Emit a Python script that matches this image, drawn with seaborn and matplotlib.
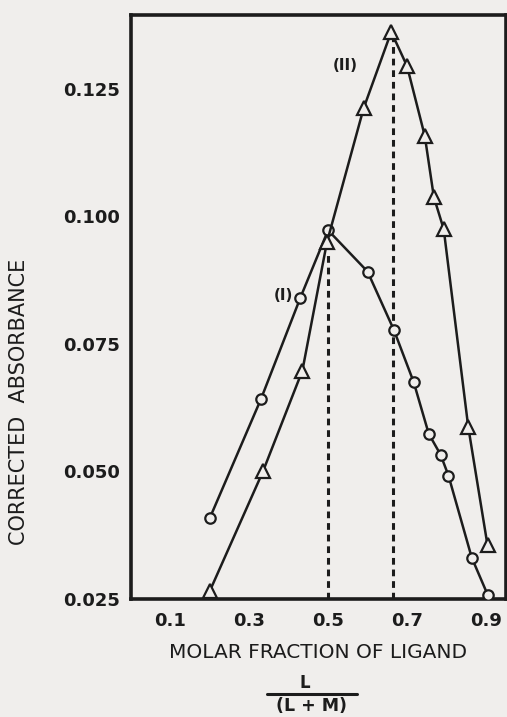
import numpy as np
import pandas as pd
import matplotlib
matplotlib.use("Agg")
import matplotlib.pyplot as plt
import seaborn as sns
from matplotlib.lines import Line2D

sns.set_theme(style="white")
plt.rcParams["font.family"] = ["DejaVu Sans"]

PAPER = "#f0eeec"
INK = "#1c1c1c"

# curve (I): circles
x_I = [0.20, 0.33, 0.43, 0.50, 0.60, 0.667, 0.717, 0.755, 0.785, 0.805, 0.864, 0.905]
y_I = [0.0408, 0.0642, 0.0841, 0.0973, 0.0892, 0.0777, 0.0675, 0.0574, 0.0533, 0.0492, 0.0331, 0.0257]

# curve (II): triangles
x_II = [0.20, 0.335, 0.435, 0.497, 0.59, 0.66, 0.70, 0.745, 0.768, 0.793, 0.855, 0.904]
y_II = [0.0265, 0.0500, 0.0698, 0.0949, 0.1212, 0.1362, 0.1295, 0.1158, 0.1038, 0.0975, 0.0588, 0.0355]

# dashed guides: (x, top)
guide_x = [0.5, 0.664]
guide_top = [0.0925, 0.1355]

xticks = [0.1, 0.3, 0.5, 0.7, 0.9]
xminor = [0.2, 0.4, 0.6, 0.8]
yticks = [0.025, 0.050, 0.075, 0.100, 0.125]

df_I = pd.DataFrame({"x": x_I, "y": y_I})
df_II = pd.DataFrame({"x": x_II, "y": y_II})

fig = plt.figure(figsize=(5.07, 7.17), dpi=100, facecolor=PAPER)
ax = fig.add_axes([130.7 / 507, 1 - 599 / 717, 375 / 507, 584 / 717])
ax.set_facecolor(PAPER)

sns.lineplot(data=df_I, x="x", y="y", sort=False, ax=ax, color=INK, lw=1.8,
             marker="o", markersize=7.5, markerfacecolor=PAPER,
             markeredgecolor=INK, markeredgewidth=1.6, zorder=3)
sns.lineplot(data=df_II, x="x", y="y", sort=False, ax=ax, color=INK, lw=1.8,
             marker="^", markersize=9.5, markerfacecolor=PAPER,
             markeredgecolor=INK, markeredgewidth=1.6, zorder=3)

ax.vlines(guide_x, 0.025, guide_top, colors=INK, linestyles=(0, (2.2, 1.6)),
          lw=2.2, zorder=2)

ax.text(0.543, 0.1296, "(II)", fontsize=11, fontweight="bold", color=INK,
        ha="center", va="center")
ax.text(0.386, 0.0846, "(I)", fontsize=11, fontweight="bold", color=INK,
        ha="center", va="center")

ax.set_xlim(0.0, 0.95)
ax.set_ylim(0.025, 0.1395)
ax.set_xticks(xticks)
ax.set_xticklabels([f"{v:.1f}" for v in xticks])
ax.set_xticks(xminor, minor=True)
ax.set_yticks(yticks)
ax.set_yticklabels([f"{v:.3f}" for v in yticks])
ax.tick_params(axis="both", which="both", direction="in", length=5, width=1.5,
               colors=INK, labelsize=13)
ax.tick_params(axis="x", pad=9)
ax.tick_params(axis="y", pad=8)
for lab in ax.get_xticklabels() + ax.get_yticklabels():
    lab.set_fontweight("bold")

for sp in ax.spines.values():
    sp.set_visible(True)
    sp.set_color(INK)
    sp.set_linewidth(2.6)

ax.set_xlabel("MOLAR FRACTION OF LIGAND", fontsize=14.5, color=INK, labelpad=10)
ax.set_ylabel("CORRECTED  ABSORBANCE", fontsize=15, color=INK)
ax.yaxis.set_label_coords(-0.27, 0.337)

# fraction L / (L + M) under the x label
fig.text(305 / 507, 1 - 692 / 717, "L", fontsize=12, fontweight="bold",
         color=INK, ha="center", va="bottom")
fig.add_artist(Line2D([267 / 507, 357 / 507], [1 - 694 / 717, 1 - 694 / 717],
                      color=INK, lw=2.2))
fig.text(312 / 507, 1 - 715 / 717, "(L + M)", fontsize=12.5, fontweight="bold",
         color=INK, ha="center", va="bottom")

fig.savefig("out.png", dpi=100, facecolor=PAPER)
